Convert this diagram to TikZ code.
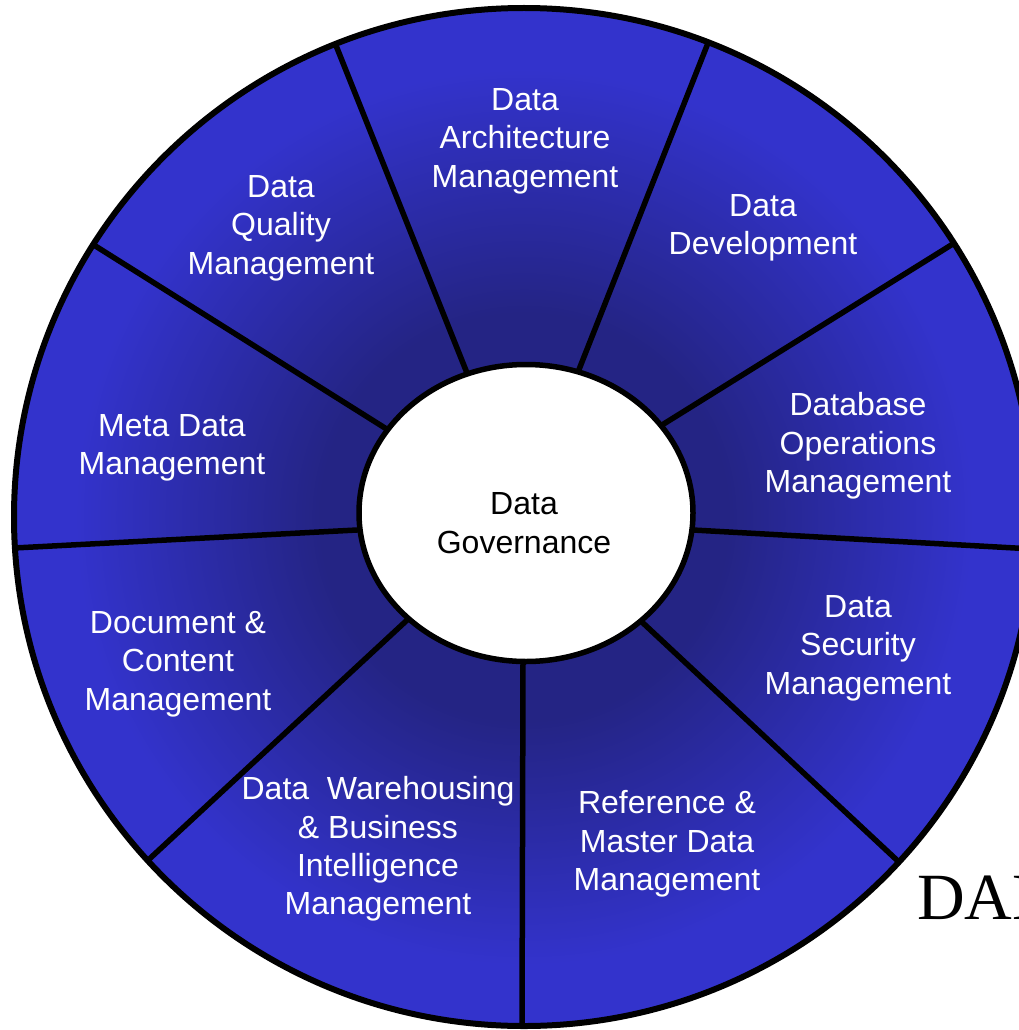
\documentclass[tikz,border=0pt]{standalone}
\usepackage{fontspec}
\setmainfont{Liberation Sans}
\newfontfamily\damafont{Liberation Serif}
\usetikzlibrary{shapes.geometric,calc}
\definecolor{wheelblue}{RGB}{51,51,204}
\definecolor{wheeldark}{RGB}{36,36,132}
\pgfdeclareradialshading{wheelshade}{\pgfpoint{0bp}{0bp}}{color(0bp)=(wheeldark); color(10bp)=(wheeldark); color(22bp)=(wheelblue); color(50bp)=(wheelblue)}
\begin{document}
\begin{tikzpicture}[x=1pt,y=-1pt,
  rim/.style={line width=6pt,draw=black},
  spoke/.style={line width=5.5pt,draw=black},
  seglabel/.style={text=white,align=center,font=\fontsize{32}{38.4}\selectfont,inner sep=0pt},
  hub/.style={ellipse,draw=black,line width=5.5pt,fill=white,minimum width=334pt,minimum height=297pt,inner sep=0pt},
  hublabel/.style={text=black,align=center,font=\fontsize{32}{38.4}\selectfont,inner sep=0pt}]
\useasboundingbox (0,0) rectangle (1018,1030);
% outer disk
\coordinate (C) at (524,517);
\shade[shading=wheelshade] (C) ellipse (510 and 509);
% spoke end points
\coordinate (i1) at (465,368); \coordinate (o1) at (335,43);
\coordinate (i2) at (580,367); \coordinate (o2) at (708,43);
\coordinate (i3) at (662,425); \coordinate (o3) at (948,247);
\coordinate (i4) at (693,530); \coordinate (o4) at (1033,549);
\coordinate (i5) at (643,623); \coordinate (o5) at (900,863);
\coordinate (i6) at (523,662); \coordinate (o6) at (522,1026);
\coordinate (i7) at (405,622); \coordinate (o7) at (145,863);
\coordinate (i8) at (357,530); \coordinate (o8) at (14,548);
\coordinate (i9) at (385,428); \coordinate (o9) at (97,247);
\begin{scope}
  \clip (C) ellipse (510 and 509);
  \foreach \k in {1,...,9}{
    \draw[spoke] ($(o\k)!-0.1!(i\k)$) -- ($(i\k)!-0.1!(o\k)$);
  }
\end{scope}
\draw[rim] (C) ellipse (510 and 509);
% hub
\node[hub] (gov) at (526,513) {};
\node[hublabel] (govt) at (524,523) {Data\\Governance};
% segment labels
\node[seglabel] (arch) at (525,141) {Data\\Architecture\\Management};
\node[seglabel] (dev) at (763,228) {Data\\Development};
\node[seglabel] (qual) at (281,228) {Data\\Quality\\Management};
\node[seglabel] (dbo) at (858,446) {Database\\Operations\\Management};
\node[seglabel] (meta) at (172,448) {Meta Data\\Management};
\node[seglabel] (sec) at (858,648) {Data\\Security\\Management};
\node[seglabel] (doc) at (178,664) {Document \&\\Content\\Management};
\node[seglabel] (ref) at (667,844) {Reference \&\\Master Data\\Management};
\node[seglabel] (dw) at (378,849) {Data\ \ Warehousing\\\& Business\\Intelligence\\Management};
% DAMA
\node[anchor=base west,inner sep=0pt,font=\damafont\fontsize{66}{70}\selectfont] (dama) at (917,919) {DAMA};
\end{tikzpicture}
\end{document}
